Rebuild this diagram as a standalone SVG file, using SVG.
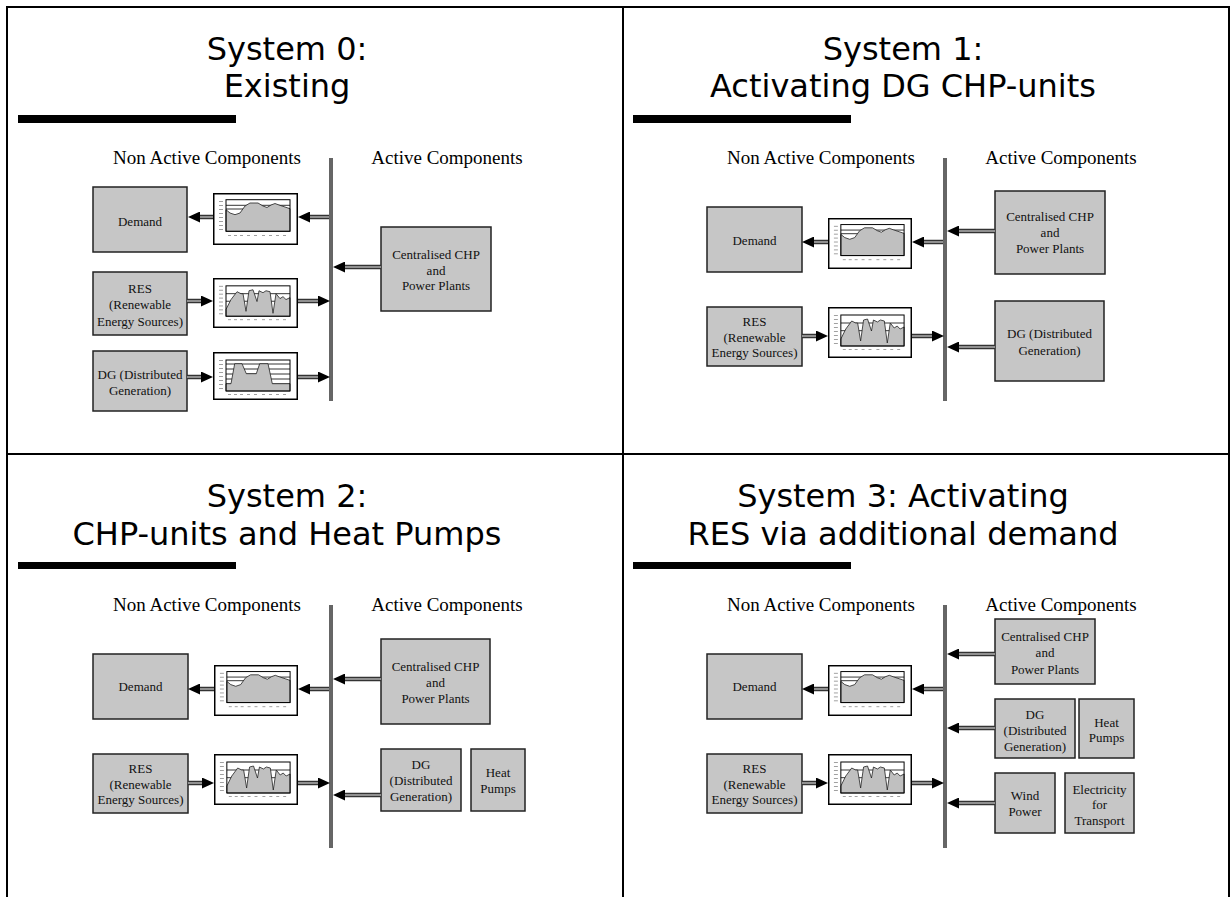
<svg xmlns="http://www.w3.org/2000/svg" width="1232" height="897" viewBox="0 0 1232 897">
<style>
.frame{stroke:#000;stroke-width:2;fill:none}
.title{font-family:"DejaVu Sans",Verdana,sans-serif;font-size:32px;fill:#000;text-anchor:middle}
.hdr{font-family:"Liberation Serif","Times New Roman",serif;font-size:19px;fill:#000;text-anchor:middle}
.lbl{font-family:"Liberation Serif","Times New Roman",serif;font-size:13px;fill:#111;text-anchor:middle}
.box{fill:#c6c6c6;stroke:#222;stroke-width:1.5}
.bar{fill:#000}
.bus{stroke:#333;stroke-width:3.5;fill:none}
.busi{stroke:#9a9a9a;stroke-width:1;fill:none}
.so{stroke:#333;stroke-width:4.5;fill:none;marker-end:url(#ah)}
.si{stroke:#b0b0b0;stroke-width:1.5;fill:none}
.cf{fill:#fff;stroke:#000;stroke-width:1.5}
.pf{fill:none;stroke:#000;stroke-width:1}
.gl{stroke:#000;stroke-width:0.8}
.ar{fill:#c0c0c0;stroke:#222;stroke-width:0.8}
.tk{stroke:#777;stroke-width:0.7}
</style>
<defs>
<marker id="ah" viewBox="0 0 12 11" refX="0" refY="5.5" markerWidth="12" markerHeight="11" markerUnits="userSpaceOnUse" orient="auto">
<path d="M0,0 L12,5.5 L0,11 Z" fill="#000"/>
</marker>
<g id="ticks">
<path class="tk" d="M6 8.5H10M6 12.5H10M6 16.5H10M6 20.5H10M6 24.5H10M6 28.5H10M6 32.5H10M6 36.5H10"/>
<path class="tk" d="M15 42.5H18M21 42.5H24M27 42.5H30M34 42.5H37M41 42.5H44M49 42.5H52M56 42.5H59M63 42.5H66M70 42.5H73"/>
</g>
<symbol id="chD" viewBox="0 0 85 52" preserveAspectRatio="none">
<rect class="cf" x="0.75" y="0.75" width="83.5" height="50.5"/>
<use href="#ticks"/>
<path class="gl" d="M13 12.3H77M13 16H77"/>
<polygon class="ar" points="13,16.7 17,20 22,21.7 27,20 32,13 37,10 45,10 50,13 54,14.5 58,12 62,10.5 66,12 72,14 77,15.7 77,38.3 13,38.3"/>
<rect class="pf" x="13" y="6.7" width="64" height="31.6"/>
</symbol>
<symbol id="chR" viewBox="0 0 85 51" preserveAspectRatio="none">
<rect class="cf" x="0.75" y="0.75" width="83.5" height="49.5"/>
<use href="#ticks"/>
<path class="gl" d="M13 16H77M13 23.7H77"/>
<polygon class="ar" points="13,32 18,22 24,14 28,16 30,16 33,34 36,13 40,12 44,24 46,13 50,15 53,13 57,14 60,36 63,16 67,21 70,19 73,22 77,20 77,39 13,39"/>
<rect class="pf" x="13" y="8" width="64" height="31"/>
</symbol>
<symbol id="chG" viewBox="0 0 85 48" preserveAspectRatio="none">
<rect class="cf" x="0.75" y="0.75" width="83.5" height="46.5"/>
<use href="#ticks"/>
<path class="gl" d="M13 12H77M13 17H77M13 22H77M13 27H77M13 32H77"/>
<polygon class="ar" points="13,31.7 18,31.7 21.7,11.7 29,11.7 33.3,21.7 43.3,21.7 46.7,11.7 55,11.7 59.3,31.7 77,31.7 77,39 13,39"/>
<rect class="pf" x="13" y="8" width="64" height="31"/>
</symbol>
</defs>

<g id="frame">
<path class="frame" d="M7 6V897M623 6V897M1229 6V897M6 7H1230M6 454H1230"/>
</g>

<!-- System 0 -->
<g id="sys0-header">
<text class="title" x="287" y="60">System 0:</text>
<text class="title" x="287" y="97">Existing</text>
<rect class="bar" x="18" y="115" width="218" height="8"/>
<text class="hdr" x="207" y="164">Non Active Components</text>
<text class="hdr" x="447" y="164">Active Components</text>
</g>
<g id="s0-demand"><rect class="box" x="93" y="187" width="94" height="65"/><text class="lbl" x="140" y="226">Demand</text></g>
<g id="s0-res"><rect class="box" x="93" y="272" width="94" height="63"/><text class="lbl" x="140" y="293">RES</text><text class="lbl" x="140" y="309">(Renewable</text><text class="lbl" x="140" y="326">Energy Sources)</text></g>
<g id="s0-dg"><rect class="box" x="93" y="351" width="94" height="60"/><text class="lbl" x="140" y="379">DG (Distributed</text><text class="lbl" x="140" y="395">Generation)</text></g>
<g id="s0-chp"><rect class="box" x="381" y="227" width="110" height="84"/><text class="lbl" x="436" y="259">Centralised CHP</text><text class="lbl" x="436" y="275">and</text><text class="lbl" x="436" y="290">Power Plants</text></g>
<g id="s0-chart1"><use href="#chD" x="213" y="193" width="85" height="52"/></g>
<g id="s0-chart2"><use href="#chR" x="213" y="278" width="85" height="50"/></g>
<g id="s0-chart3"><use href="#chG" x="213" y="352" width="85" height="48"/></g>

<!-- System 1 -->
<g id="sys1-header">
<text class="title" x="903" y="60">System 1:</text>
<text class="title" x="903" y="97">Activating DG CHP-units</text>
<rect class="bar" x="633" y="115" width="218" height="8"/>
<text class="hdr" x="821" y="164">Non Active Components</text>
<text class="hdr" x="1061" y="164">Active Components</text>
</g>
<g id="s1-demand"><rect class="box" x="707" y="207" width="95" height="65"/><text class="lbl" x="754.5" y="244.5">Demand</text></g>
<g id="s1-res"><rect class="box" x="707" y="307" width="95" height="59"/><text class="lbl" x="754.5" y="326">RES</text><text class="lbl" x="754.5" y="341.5">(Renewable</text><text class="lbl" x="754.5" y="357">Energy Sources)</text></g>
<g id="s1-chp"><rect class="box" x="995" y="191" width="110" height="83"/><text class="lbl" x="1050" y="221">Centralised CHP</text><text class="lbl" x="1050" y="237">and</text><text class="lbl" x="1050" y="253">Power Plants</text></g>
<g id="s1-dg"><rect class="box" x="995" y="301" width="109" height="80"/><text class="lbl" x="1049.5" y="338">DG (Distributed</text><text class="lbl" x="1049.5" y="355">Generation)</text></g>
<g id="s1-chart1"><use href="#chD" x="828" y="218" width="84" height="51"/></g>
<g id="s1-chart2"><use href="#chR" x="828" y="307" width="84" height="51"/></g>

<!-- System 2 -->
<g id="sys2-header">
<text class="title" x="287" y="507">System 2:</text>
<text class="title" x="287" y="545">CHP-units and Heat Pumps</text>
<rect class="bar" x="18" y="562" width="218" height="7"/>
<text class="hdr" x="207" y="611">Non Active Components</text>
<text class="hdr" x="447" y="611">Active Components</text>
</g>
<g id="s2-demand"><rect class="box" x="93" y="654" width="95" height="65"/><text class="lbl" x="140.5" y="691">Demand</text></g>
<g id="s2-res"><rect class="box" x="93" y="754" width="95" height="59"/><text class="lbl" x="140.5" y="773">RES</text><text class="lbl" x="140.5" y="788.5">(Renewable</text><text class="lbl" x="140.5" y="804">Energy Sources)</text></g>
<g id="s2-chp"><rect class="box" x="381" y="639" width="109" height="85"/><text class="lbl" x="435.5" y="671">Centralised CHP</text><text class="lbl" x="435.5" y="687">and</text><text class="lbl" x="435.5" y="703">Power Plants</text></g>
<g id="s2-dg"><rect class="box" x="381" y="749" width="80" height="62"/><text class="lbl" x="421" y="768.5">DG</text><text class="lbl" x="421" y="784.5">(Distributed</text><text class="lbl" x="421" y="800.5">Generation)</text></g>
<g id="s2-hp"><rect class="box" x="471" y="749" width="54" height="62"/><text class="lbl" x="498" y="776.5">Heat</text><text class="lbl" x="498" y="792.5">Pumps</text></g>
<g id="s2-chart1"><use href="#chD" x="214" y="665" width="84" height="51"/></g>
<g id="s2-chart2"><use href="#chR" x="214" y="754" width="84" height="51"/></g>

<!-- System 3 -->
<g id="sys3-header">
<text class="title" x="903" y="507">System 3: Activating</text>
<text class="title" x="903" y="545">RES via additional demand</text>
<rect class="bar" x="633" y="562" width="218" height="7"/>
<text class="hdr" x="821" y="611">Non Active Components</text>
<text class="hdr" x="1061" y="611">Active Components</text>
</g>
<g id="s3-demand"><rect class="box" x="707" y="654" width="95" height="65"/><text class="lbl" x="754.5" y="691">Demand</text></g>
<g id="s3-res"><rect class="box" x="707" y="754" width="95" height="59"/><text class="lbl" x="754.5" y="773">RES</text><text class="lbl" x="754.5" y="788.5">(Renewable</text><text class="lbl" x="754.5" y="804">Energy Sources)</text></g>
<g id="s3-chp"><rect class="box" x="995" y="619" width="100" height="65"/><text class="lbl" x="1045" y="641">Centralised CHP</text><text class="lbl" x="1045" y="657">and</text><text class="lbl" x="1045" y="674">Power Plants</text></g>
<g id="s3-dg"><rect class="box" x="995" y="699" width="80" height="59"/><text class="lbl" x="1035" y="718.5">DG</text><text class="lbl" x="1035" y="734.5">(Distributed</text><text class="lbl" x="1035" y="750.5">Generation)</text></g>
<g id="s3-hp"><rect class="box" x="1079" y="699" width="55" height="59"/><text class="lbl" x="1106.5" y="726.5">Heat</text><text class="lbl" x="1106.5" y="742">Pumps</text></g>
<g id="s3-wind"><rect class="box" x="995" y="773" width="60" height="60"/><text class="lbl" x="1025" y="800">Wind</text><text class="lbl" x="1025" y="816">Power</text></g>
<g id="s3-elec"><rect class="box" x="1065" y="773" width="69" height="60"/><text class="lbl" x="1099.5" y="793.5">Electricity</text><text class="lbl" x="1099.5" y="809">for</text><text class="lbl" x="1099.5" y="824.5">Transport</text></g>
<g id="s3-chart1"><use href="#chD" x="828" y="665" width="84" height="51"/></g>
<g id="s3-chart2"><use href="#chR" x="828" y="754" width="84" height="51"/></g>

<g id="connectors">
<path class="bus" d="M331 158V401M945 158V401M331 605V848M945 605V848"/>
<path class="busi" d="M331 158V401M945 158V401M331 605V848M945 605V848"/>
<path class="so" d="M213 217H200"/><path class="si" d="M213 217H200"/>
<path class="so" d="M329 217H310"/><path class="si" d="M329 217H310"/>
<path class="so" d="M187 301H201"/><path class="si" d="M187 301H201"/>
<path class="so" d="M298 301H318"/><path class="si" d="M298 301H318"/>
<path class="so" d="M187 377H201"/><path class="si" d="M187 377H201"/>
<path class="so" d="M298 377H318"/><path class="si" d="M298 377H318"/>
<path class="so" d="M381 267H345"/><path class="si" d="M381 267H345"/>
<path class="so" d="M828 242H814"/><path class="si" d="M828 242H814"/>
<path class="so" d="M943 242H924"/><path class="si" d="M943 242H924"/>
<path class="so" d="M802 336H816"/><path class="si" d="M802 336H816"/>
<path class="so" d="M912 336H932"/><path class="si" d="M912 336H932"/>
<path class="so" d="M995 231H959"/><path class="si" d="M995 231H959"/>
<path class="so" d="M995 347H959"/><path class="si" d="M995 347H959"/>
<path class="so" d="M214 689H200"/><path class="si" d="M214 689H200"/>
<path class="so" d="M329 689H310"/><path class="si" d="M329 689H310"/>
<path class="so" d="M188 783H202"/><path class="si" d="M188 783H202"/>
<path class="so" d="M298 783H318"/><path class="si" d="M298 783H318"/>
<path class="so" d="M381 679H345"/><path class="si" d="M381 679H345"/>
<path class="so" d="M381 795H345"/><path class="si" d="M381 795H345"/>
<path class="so" d="M828 689H814"/><path class="si" d="M828 689H814"/>
<path class="so" d="M943 689H924"/><path class="si" d="M943 689H924"/>
<path class="so" d="M802 783H816"/><path class="si" d="M802 783H816"/>
<path class="so" d="M912 783H932"/><path class="si" d="M912 783H932"/>
<path class="so" d="M995 654H959"/><path class="si" d="M995 654H959"/>
<path class="so" d="M995 728H959"/><path class="si" d="M995 728H959"/>
<path class="so" d="M995 803H959"/><path class="si" d="M995 803H959"/>
</g>
</svg>
